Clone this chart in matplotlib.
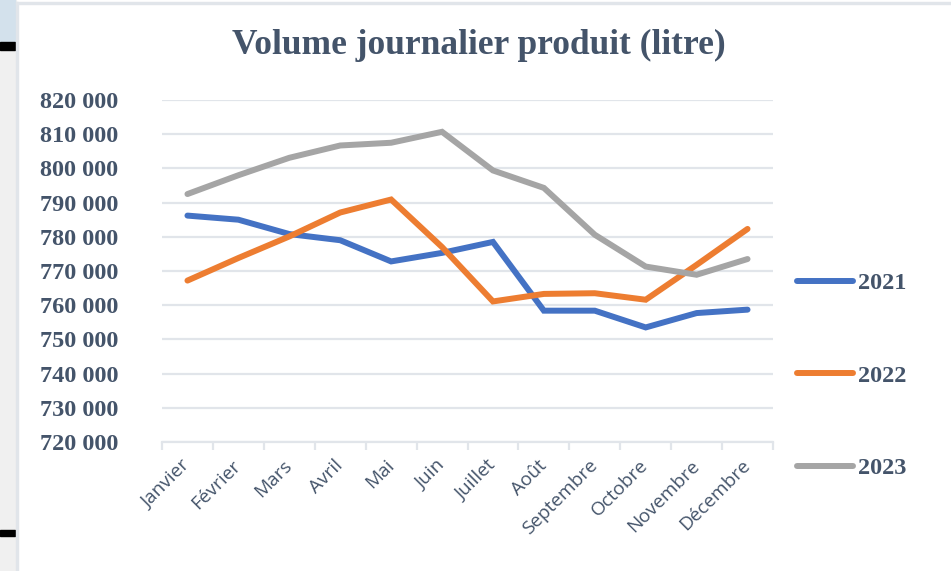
import matplotlib
matplotlib.use("Agg")
import matplotlib.pyplot as plt
from matplotlib.patches import Rectangle
from matplotlib.ticker import FuncFormatter, MultipleLocator, FixedLocator

mois = ["Janvier", "Février", "Mars", "Avril", "Mai", "Juin", "Juillet",
        "Août", "Septembre", "Octobre", "Novembre", "Décembre"]
v2021 = [786200, 785000, 780800, 779000, 772800, 775300, 778500,
         758400, 758400, 753500, 757700, 758700]
v2022 = [767200, 773800, 780100, 787100, 790900, 777000, 761100,
         763300, 763500, 761600, 771800, 782300]
v2023 = [792500, 798000, 803100, 806700, 807500, 810700, 799400,
         794300, 780600, 771300, 768900, 773500]
annees = ["2021", "2022", "2023"]
couleurs = ["#4472C4", "#ED7D31", "#A5A5A5"]

texte = "#44546A"
grille = "#E1E5EA"
W, H = 951, 571

fig = plt.figure(figsize=(W / 100, H / 100), dpi=100)
fig.patch.set_facecolor("white")

# bordure type tableur a gauche
def rect(x, y, w, h, c):
    fig.patches.append(Rectangle((x / W, 1 - (y + h) / H), w / W, h / H,
                                 transform=fig.transFigure, color=c, zorder=0))

rect(0, 0, 16, H, "#F0F0F0")
rect(0, 0, 15, 41, "#D3E1EC")
rect(0, 42, 15, 8, "black")
rect(0, 530, 15, 6, "black")
rect(16, 2, 2, H, grille)
rect(16, 2, W, 2, grille)

ax = fig.add_axes([162 / W, 1 - 442 / H, (773 - 162) / W, (442 - 100) / H])
ax.set_facecolor("none")

x = range(len(mois))
lignes = []
for vals, c, lab in zip([v2021, v2022, v2023], couleurs, annees):
    l, = ax.plot(x, vals, color=c, lw=4.3, solid_capstyle="round",
                 solid_joinstyle="miter", label=lab)
    lignes.append(l)

ax.set_xlim(-0.5, 11.5)
ax.set_ylim(720000, 820000)
ax.yaxis.set_major_locator(MultipleLocator(10000))
ax.yaxis.set_major_formatter(FuncFormatter(lambda v, p: f"{int(v):,}".replace(",", " ")))
ax.grid(axis="y", color=grille, lw=1.6)
ax.set_axisbelow(True)

for s in ["top", "right", "left"]:
    ax.spines[s].set_visible(False)
ax.spines["bottom"].set_color(grille)
ax.spines["bottom"].set_linewidth(1.6)

ax.set_xticks(list(x))
ax.set_xticklabels(mois, rotation=45, ha="right", va="center",
                   rotation_mode="anchor", fontsize=13.7,
                   family="Open Sans", color=texte)
ax.xaxis.set_minor_locator(FixedLocator([i - 0.5 for i in range(13)]))
ax.tick_params(axis="x", which="major", length=0, pad=15)
ax.tick_params(axis="x", which="minor", length=6, width=1.6, color=grille)
ax.tick_params(axis="y", length=0, pad=31.5, labelsize=17.5, labelcolor=texte)
for t in ax.get_yticklabels():
    t.set_fontfamily("Liberation Serif")
    t.set_fontweight("bold")

fig.text(0.5035, 1 - 45 / H, "Volume journalier produit (litre)",
         ha="center", va="center", fontsize=25.5, fontweight="bold",
         family="Liberation Serif", color=texte)

leg = fig.legend(handles=lignes, loc="upper left",
                 bbox_to_anchor=(797 / W, 1 - 272 / H), frameon=False,
                 borderaxespad=0, borderpad=0,
                 handlelength=2.3, handletextpad=0.2, labelspacing=2.9,
                 prop={"family": "Liberation Serif", "weight": "bold", "size": 17.5})
for t in leg.get_texts():
    t.set_color(texte)

fig.savefig("out.png", dpi=100)
